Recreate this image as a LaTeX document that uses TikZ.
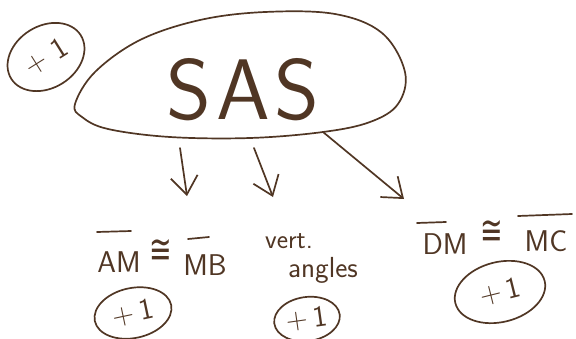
\documentclass[tikz,border=0pt]{standalone}
\usepackage{fontspec}
\newfontfamily\symfont{DejaVu Sans}
\usetikzlibrary{arrows.meta,shapes.geometric}
\definecolor{ink}{RGB}{80,54,36}
\tikzset{
  inkline/.style={draw=ink, line width=1.7pt, line cap=round, line join=round},
  arrowline/.style={inkline, -{Straight Barb[length=18pt, width=27pt, line width=1.7pt]}},
  plusone/.style={ellipse, inkline, inner sep=0pt, text=ink, font=\sffamily\fontsize{30}{30}\selectfont},
  label/.style={text=ink, inner sep=0pt, font=\sffamily\fontsize{30}{30}\selectfont},
  congsign/.style={text=ink, inner sep=0pt, font=\symfont\fontsize{30}{30}\selectfont}
}
\newcommand{\plusonetext}{+\kern5pt 1}
\newcommand{\tallcong}{\scalebox{0.9}[1.35]{≅}}
\begin{document}
\begin{tikzpicture}[x=1pt,y=-1pt]
\useasboundingbox (0,0) rectangle (576,338);
% SAS blob
\draw[inkline] plot[smooth cycle, tension=0.6] coordinates {
  (75,104) (95,72) (140,40) (200,20) (265,12) (335,14) (382,33) (405,72)
  (398,104) (370,122) (323,132) (250,138) (170,137) (108,129) (82,117)};
\node[text=ink, inner sep=0pt, font=\sffamily\fontsize{86}{86}\selectfont] (sas) at (243,90) {S\kern5pt A\kern5pt S};
% top-left +1
\node[plusone, rotate=32, minimum width=82pt, minimum height=62pt] (p0) at (46,57) {+\kern10pt 1};
% arrow endpoints
\coordinate (a1s) at (180,148);
\coordinate (a1e) at (187,196);
\coordinate (a2s) at (254,148);
\coordinate (a2e) at (273,197);
\coordinate (a3s) at (323,132);
\coordinate (a3e) at (404,199);
\draw[arrowline] (a1s) -- (a1e);
\draw[arrowline] (a2s) -- (a2e);
\draw[arrowline] (a3s) -- (a3e);
% AM congruent MB
\node[label] (am) at (119,262) {AM};
\node[congsign] (c1) at (161,251) {\tallcong};
\node[label] (mb) at (205,265) {MB};
\coordinate (am1) at (97,232);
\coordinate (am2) at (131,231);
\coordinate (mb1) at (188,239);
\coordinate (mb2) at (209,237);
\draw[inkline] (am1) -- (am2);
\draw[inkline] (mb1) -- (mb2);
% vert. angles
\node[label, font=\sffamily\fontsize{27}{27}\selectfont] (vert) at (289,241) {vert.};
\node[label, font=\sffamily\fontsize{29}{29}\selectfont] (ang) at (323,270) {angles};
% DM congruent MC
\node[label] (dm) at (445,244) {DM};
\node[congsign] (c2) at (492,232) {\tallcong};
\node[label] (mc) at (546,241) {MC};
\coordinate (dm1) at (417,223);
\coordinate (dm2) at (446,222);
\coordinate (mc1) at (518,216);
\coordinate (mc2) at (572,214);
\draw[inkline] (dm1) -- (dm2);
\draw[inkline] (mc1) -- (mc2);
% +1 circles
\node[plusone, rotate=12, minimum width=78pt, minimum height=50pt] (p1) at (133,313) {\plusonetext};
\node[plusone, rotate=8, minimum width=66pt, minimum height=44pt] (p2) at (307,319) {\plusonetext};
\node[plusone, rotate=14, minimum width=92pt, minimum height=60pt] (p3) at (500,292) {\plusonetext};
\end{tikzpicture}
\end{document}
